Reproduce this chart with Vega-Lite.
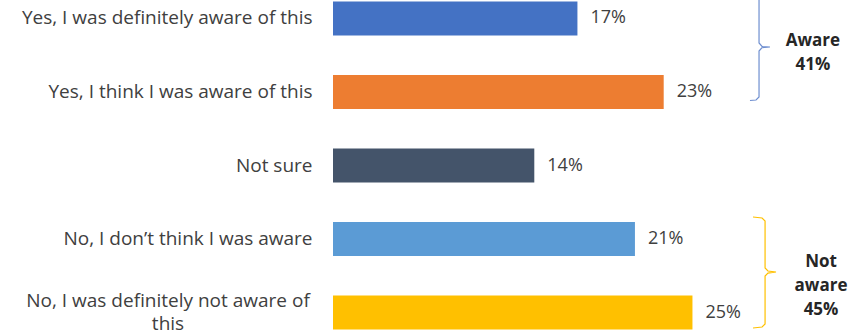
{
  "$schema": "https://vega.github.io/schema/vega-lite/v6.json",
  "width": 532,
  "height": 331,
  "autosize": {"type": "none"},
  "padding": {"left": 333, "top": 0, "right": 0, "bottom": 4},
  "background": "white",
  "config": {"view": {"stroke": null}, "font": "Open Sans"},
  "datasets": {
    "bars": [
      {"cat": "Yes, I was definitely aware of this", "pct": 0.17},
      {"cat": "Yes, I think I was aware of this", "pct": 0.23},
      {"cat": "Not sure", "pct": 0.14},
      {"cat": "No, I don’t think I was aware", "pct": 0.21},
      {"cat": "No, I was definitely not aware of this", "pct": 0.25}
    ],
    "braces": [
      {"brace": "aware", "i": 0, "x": 0.2900, "row": 1.116},
      {"brace": "aware", "i": 1, "x": 0.2942, "row": 1.109},
      {"brace": "aware", "i": 2, "x": 0.2963, "row": 1.068},
      {"brace": "aware", "i": 3, "x": 0.2963, "row": 0.442},
      {"brace": "aware", "i": 4, "x": 0.2984, "row": 0.395},
      {"brace": "aware", "i": 5, "x": 0.3039, "row": 0.388},
      {"brace": "aware", "i": 6, "x": 0.2984, "row": 0.381},
      {"brace": "aware", "i": 7, "x": 0.2963, "row": 0.333},
      {"brace": "aware", "i": 8, "x": 0.2963, "row": -0.32},
      {"brace": "notaware", "i": 0, "x": 0.2921, "row": 2.701},
      {"brace": "notaware", "i": 1, "x": 0.2984, "row": 2.714},
      {"brace": "notaware", "i": 2, "x": 0.3005, "row": 2.755},
      {"brace": "notaware", "i": 3, "x": 0.3005, "row": 3.395},
      {"brace": "notaware", "i": 4, "x": 0.3025, "row": 3.435},
      {"brace": "notaware", "i": 5, "x": 0.3081, "row": 3.449},
      {"brace": "notaware", "i": 6, "x": 0.3025, "row": 3.463},
      {"brace": "notaware", "i": 7, "x": 0.3005, "row": 3.503},
      {"brace": "notaware", "i": 8, "x": 0.3005, "row": 4.156},
      {"brace": "notaware", "i": 9, "x": 0.2984, "row": 4.197},
      {"brace": "notaware", "i": 10, "x": 0.2921, "row": 4.211}
    ],
    "notes": [
      {"text": "Aware", "x": 0.3338, "row": 0.374},
      {"text": "41%", "x": 0.3338, "row": 0.701},
      {"text": "Not", "x": 0.3394, "row": 3.381},
      {"text": "aware", "x": 0.3394, "row": 3.707},
      {"text": "45%", "x": 0.3394, "row": 4.034}
    ]
  },
  "layer": [
    {
      "data": {"name": "bars"},
      "encoding": {
        "y": {
          "field": "cat",
          "type": "nominal",
          "sort": null,
          "scale": {"paddingInner": 0.537, "paddingOuter": 0.02},
          "axis": {
            "title": null,
            "ticks": false,
            "domain": false,
            "grid": false,
            "labelPadding": 21,
            "labelFontSize": 19,
            "labelColor": "#404040",
            "labelLimit": 400,
            "labelExpr": "datum.value == 'No, I was definitely not aware of this' ? '' : datum.label"
          }
        }
      },
      "layer": [
        {
          "mark": {"type": "bar"},
          "encoding": {
            "x": {"field": "pct", "type": "quantitative", "scale": {"domain": [0, 0.37], "nice": false}, "axis": null},
            "color": {
              "field": "cat",
              "type": "nominal",
              "scale": {
                "domain": ["Yes, I was definitely aware of this", "Yes, I think I was aware of this", "Not sure", "No, I don’t think I was aware", "No, I was definitely not aware of this"],
                "range": ["#4472C4", "#ED7D31", "#44546A", "#5B9BD5", "#FFC000"]
              },
              "legend": null
            }
          }
        },
        {
          "mark": {"type": "text", "align": "left", "baseline": "middle", "dx": 13, "fontSize": 18, "color": "#404040"},
          "encoding": {
            "x": {"field": "pct", "type": "quantitative", "scale": {"domain": [0, 0.37], "nice": false}, "axis": null},
            "text": {"field": "pct", "type": "quantitative", "format": ".0%"}
          }
        },
        {
          "transform": [{"filter": "datum.cat == 'No, I was definitely not aware of this'"}],
          "mark": {"type": "text", "align": "center", "baseline": "middle", "dx": -165, "dy": -11.5, "fontSize": 19, "lineHeight": 23, "color": "#404040"},
          "encoding": {
            "x": {"datum": 0, "type": "quantitative", "scale": {"domain": [0, 0.37], "nice": false}, "axis": null},
            "text": {"value": ["No, I was definitely not aware of", "this"]}
          }
        }
      ]
    },
    {
      "encoding": {
        "y": {
          "field": "row",
          "type": "quantitative",
          "scale": {"domain": [-0.2517, 4.2517], "reverse": true, "nice": false, "zero": false},
          "axis": null
        },
        "x": {"field": "x", "type": "quantitative", "scale": {"domain": [0, 0.37], "nice": false}, "axis": null}
      },
      "layer": [
        {
          "data": {"name": "braces"},
          "mark": {"type": "line", "strokeWidth": 1.2, "interpolate": "linear"},
          "encoding": {
            "detail": {"field": "brace", "type": "nominal"},
            "order": {"field": "i", "type": "quantitative"},
            "stroke": {
              "field": "brace",
              "type": "nominal",
              "scale": {"domain": ["aware", "notaware"], "range": ["#6F8FD0", "#FFC000"]},
              "legend": null
            }
          }
        },
        {
          "data": {"name": "notes"},
          "mark": {"type": "text", "align": "center", "baseline": "alphabetic", "fontSize": 17, "fontWeight": "bold", "color": "#262626"},
          "encoding": {
            "text": {"field": "text", "type": "nominal"}
          }
        }
      ]
    }
  ],
  "resolve": {"scale": {"y": "independent"}}
}
